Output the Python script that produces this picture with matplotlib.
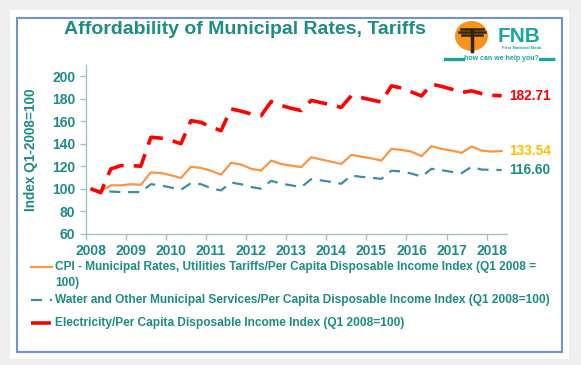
import matplotlib
matplotlib.use("Agg")
import matplotlib.pyplot as plt
import matplotlib.patches as mpatches
from matplotlib.lines import Line2D
from matplotlib.transforms import ScaledTranslation
import pandas as pd

# quarterly series, Q1 2008 .. Q2 2018
quarters = pd.period_range("2008Q1", "2018Q2", freq="Q")

cpi_rates = [
    100, 97.5, 103, 103,
    104, 103.5, 114.5, 114,
    112, 109.5, 119.5, 118.5,
    116, 112.5, 123, 121.5,
    117.7, 116.2, 125, 122,
    120.6, 119.2, 128, 126,
    124, 122, 130.1, 128.5,
    127, 125, 135.4, 134.5,
    133, 128.9, 137.8, 135.4,
    133.9, 131.9, 137.5, 133.9,
    133, 133.54,
]
water = [
    100, 97.5, 97.5, 97,
    97, 97, 104, 103,
    101, 99, 105, 104,
    100.5, 98.5, 105.5, 104,
    101.5, 100, 107, 104.5,
    103, 101.4, 108.5, 107.4,
    106, 104.4, 111.8, 110.5,
    109.8, 108.7, 116, 115.3,
    113.5, 110.8, 117.7, 116.5,
    115, 113.8, 119.5, 117,
    116.8, 116.6,
]
electricity = [
    100, 96.5, 117.5, 120.5,
    120.6, 120, 145.7, 145,
    143, 140, 160.5, 159,
    155, 151.6, 171, 169,
    166.5, 165, 177.5, 174,
    171.5, 169.5, 178.5, 176.5,
    174.5, 172.3, 182.7, 181,
    179, 177, 191.5, 189.5,
    186, 182.5, 193, 191,
    188.5, 185.5, 187, 184.5,
    183, 182.71,
]

labels = [
    "CPI - Municipal Rates, Utilities Tariffs/Per Capita Disposable Income Index (Q1 2008 =\n100)",
    "Water and Other Municipal Services/Per Capita Disposable Income Index (Q1 2008=100)",
    "Electricity/Per Capita Disposable Income Index (Q1 2008=100)",
]
end_labels = ["133.54", "116.60", "182.71"]
years = list(range(2008, 2019))

TEAL = "#1d8c82"
ORANGE = "#f79646"
WATER = "#3b8fa3"
RED = "#ff0000"
GOLD = "#ffc000"
LOGO = "#17a6a0"

plt.rcParams["font.family"] = ["Liberation Sans", "DejaVu Sans"]
plt.rcParams["font.weight"] = "bold"

W, H = 581, 365


def fx(px):
    return px / W


def fy(py):
    return 1 - py / H


x = quarters.year + (quarters.quarter - 0.5) / 4

fig = plt.figure(figsize=(5.81, 3.65), dpi=100, facecolor="#efefef")

# white card with blue frame
fig.add_artist(mpatches.Rectangle((fx(10), fy(359)), fx(559), 349 / H,
                                  transform=fig.transFigure, facecolor="white",
                                  edgecolor="none", zorder=-2))
fig.add_artist(mpatches.Rectangle((fx(17), fy(352)), fx(545), 334 / H,
                                  transform=fig.transFigure, facecolor="none",
                                  edgecolor="#6f92d0", linewidth=1.5, zorder=5))

ax = fig.add_axes([fx(85.7), fy(233.7), fx(421), 168.7 / H])
ax.patch.set_alpha(0)

l1, = ax.plot(x, cpi_rates, color=ORANGE, lw=1.6)
l2, = ax.plot(x, water, color=WATER, lw=1.6, dashes=(5, 3.5))
l3, = ax.plot(x, electricity, color=RED, lw=2.6, dashes=(5.5, 2.8))

ax.set_xlim(2008, 2018.5)
ax.set_ylim(60, 210)
ax.set_yticks(range(60, 201, 20))
ax.set_xticks(years)
ax.set_xticklabels([str(y) for y in years])

for side in ["top", "right"]:
    ax.spines[side].set_visible(False)
for side in ["left", "bottom"]:
    ax.spines[side].set_color("#9cc6c6")
    ax.spines[side].set_linewidth(1)
ax.tick_params(colors="#9cc6c6", labelcolor=TEAL, labelsize=10, length=4, width=1)
for lab in ax.get_xticklabels():
    lab.set_transform(lab.get_transform() + ScaledTranslation(0.05, 0, fig.dpi_scale_trans))
for lab in ax.get_xticklabels() + ax.get_yticklabels():
    lab.set_fontweight("bold")

ax.set_ylabel("Index Q1-2008=100", color=TEAL, fontsize=9.8, fontweight="bold", labelpad=10)

# value labels at the end of each series
for series, text, col in zip([cpi_rates, water, electricity], end_labels, [GOLD, TEAL, RED]):
    ax.annotate(text, (x[-1], series[-1]), xytext=(5, 0), textcoords="offset points",
                color=col, fontsize=9.8, fontweight="bold", va="center", ha="left",
                annotation_clip=False)

fig.text(fx(245), fy(29), "Affordability of Municipal Rates, Tariffs",
         color=TEAL, fontsize=14, fontweight="bold", ha="center", va="center")

# FNB logo
fig.add_artist(mpatches.Ellipse((fx(471.5), fy(36)), 33 / W, 30 / H, transform=fig.transFigure,
                                facecolor="#f7941d", edgecolor="none"))
for dy, w in [(-7, 11), (-4, 13), (-1, 10)]:
    fig.add_artist(Line2D([fx(471.5 - w), fx(471.5 + w)], [fy(36 + dy), fy(36 + dy)],
                          transform=fig.transFigure, color="#2e2410", lw=1.8))
fig.add_artist(Line2D([fx(471.5), fx(471.5)], [fy(30), fy(51)],
                      transform=fig.transFigure, color="#2e2410", lw=2.5))
fig.text(fx(519), fy(36.5), "FNB", color=LOGO, fontsize=15,
         fontweight="bold", ha="center", va="center")
fig.text(fx(542), fy(48), "First National Bank", color=LOGO, fontsize=3.2,
         ha="right", va="center")
fig.text(fx(501), fy(58.5), "how can we help you?", color=LOGO, fontsize=5,
         ha="center", va="center")
for xa, xb in [(445, 463), (540, 553)]:
    fig.add_artist(Line2D([fx(xa), fx(xb)], [fy(58.5), fy(58.5)],
                          transform=fig.transFigure, color=LOGO, lw=2.4))

# legend, placed entry by entry to follow the original spacing
legend_rows = [267, 300, 323]
for line, text, y_first in zip([l1, l2, l3], labels, legend_rows):
    handle = Line2D([fx(31), fx(52)], [fy(y_first), fy(y_first)])
    handle.update_from(line)
    handle.set_transform(fig.transFigure)
    handle.set_clip_on(False)
    handle.set_clip_box(None)
    fig.add_artist(handle)
    two_lines = "\n" in text
    fig.text(fx(55), fy(y_first - 6) if two_lines else fy(y_first), text,
             color=TEAL, fontsize=8.6, fontweight="bold", ha="left",
             va="top" if two_lines else "center", linespacing=1.45)

fig.savefig("out.png", dpi=100, facecolor=fig.get_facecolor())
